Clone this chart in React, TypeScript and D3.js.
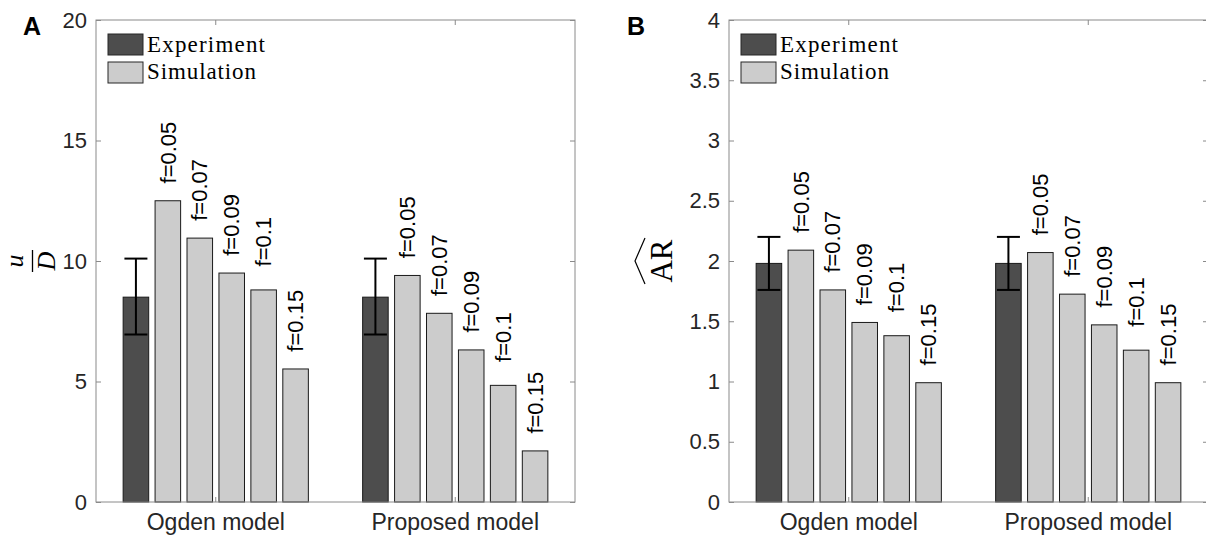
import * as d3 from 'd3';
import React, { useRef, useEffect } from 'react';

const categories = ['Ogden model', 'Proposed model'];
const seriesKeys = ['exp', 'f=0.05', 'f=0.07', 'f=0.09', 'f=0.1', 'f=0.15'];
const fLabels = ['f=0.05', 'f=0.07', 'f=0.09', 'f=0.1', 'f=0.15'];
const legendLabels = ['Experiment', 'Simulation'];

// panel A : u/D
const udExperiment = [8.5, 8.5];
const udErrLow = [6.95, 6.95];
const udErrHigh = [10.1, 10.1];
const udOgden = [12.5, 10.95, 9.5, 8.8, 5.52];
const udProposed = [9.4, 7.83, 6.31, 4.84, 2.12];
const udTicks = [0, 5, 10, 15, 20];

// panel B : AR
const arExperiment = [1.98, 1.98];
const arErrLow = [1.76, 1.76];
const arErrHigh = [2.2, 2.2];
const arOgden = [2.09, 1.76, 1.49, 1.38, 0.99];
const arProposed = [2.07, 1.725, 1.47, 1.26, 0.99];
const arTicks = [0, 0.5, 1, 1.5, 2, 2.5, 3, 3.5, 4];

const W = 479;
const H = 482;
const TOP = 20;
const SANS = "'Liberation Sans', Arial, Helvetica, sans-serif";
const SERIF = "'Liberation Serif', 'Times New Roman', serif";
const AXIS_COLOR = '#8a8a8a';
const TEXT_COLOR = '#262626';
const EXP_FILL = '#4d4d4d';
const SIM_FILL = '#cccccc';

const draw = (node, cfg) => {
  const root = d3.select(node);
  root.selectAll('*').remove();

  const g = root.append('g')
    .attr('transform', `translate(${cfg.left}, ${TOP})`);

  // scales
  const x0 = d3.scaleBand()
    .domain(categories)
    .range([0, W])
    .paddingInner(0.2)
    .paddingOuter(0.1);
  const x1 = d3.scaleBand()
    .domain(seriesKeys)
    .range([0, x0.bandwidth()])
    .paddingInner(0.2)
    .paddingOuter(0.1);
  const y = d3.scaleLinear()
    .domain([0, cfg.yMax])
    .range([H, 0]);

  // bars
  categories.forEach((c, ci) => {
    const gx = x0(c);
    const vals = [cfg.exp[ci], ...cfg.sim[ci]];
    g.append('g')
      .selectAll('rect')
      .data(vals)
      .enter().append('rect')
      .attr('x', (d, i) => gx + x1(seriesKeys[i]))
      .attr('y', d => y(d))
      .attr('width', x1.bandwidth())
      .attr('height', d => H - y(d))
      .attr('fill', (d, i) => i === 0 ? EXP_FILL : SIM_FILL)
      .attr('stroke', '#1a1a1a')
      .attr('stroke-width', 1);

    // error bar
    const cx = gx + x1('exp') + x1.bandwidth() / 2;
    const eb = g.append('g').attr('stroke', '#000').attr('stroke-width', 2);
    eb.append('line').attr('x1', cx).attr('x2', cx)
      .attr('y1', y(cfg.errLow[ci])).attr('y2', y(cfg.errHigh[ci]));
    [cfg.errLow[ci], cfg.errHigh[ci]].forEach(v => {
      eb.append('line').attr('x1', cx - 11.5).attr('x2', cx + 11.5)
        .attr('y1', y(v)).attr('y2', y(v));
    });

    // f labels
    g.append('g')
      .selectAll('text')
      .data(cfg.sim[ci])
      .enter().append('text')
      .attr('transform', (d, i) => {
        const bx = gx + x1(seriesKeys[i + 1]) + x1.bandwidth() / 2;
        return `translate(${bx}, ${y(d + cfg.labelOffset)}) rotate(-90)`;
      })
      .attr('text-anchor', 'middle')
      .attr('dy', '0.35em')
      .attr('font-family', SANS)
      .attr('font-size', 22)
      .attr('fill', '#000')
      .text((d, i) => fLabels[i]);
  });

  // axes
  const styleAxis = (size) => (sel) => {
    sel.select('.domain').remove();
    sel.selectAll('.tick line').attr('stroke', AXIS_COLOR);
    sel.selectAll('.tick text').attr('fill', TEXT_COLOR);
    sel.attr('font-family', SANS).attr('font-size', size);
  };

  g.append('g')
    .call(d3.axisLeft(y).tickValues(cfg.ticks).tickSize(-5).tickPadding(9).tickFormat(d => String(d)))
    .call(styleAxis(22));
  g.append('g')
    .attr('transform', `translate(${W}, 0)`)
    .call(d3.axisRight(y).tickValues(cfg.ticks).tickSize(-5).tickFormat(() => ''))
    .call(styleAxis(22));
  g.append('g')
    .call(d3.axisTop(x0).tickSize(-5).tickFormat(() => ''))
    .call(styleAxis(22));
  g.append('g')
    .attr('transform', `translate(0, ${H})`)
    .call(d3.axisBottom(x0).tickSize(-5).tickPadding(12))
    .call(styleAxis(23));

  // box
  g.append('rect')
    .attr('width', W)
    .attr('height', H)
    .attr('fill', 'none')
    .attr('stroke', AXIS_COLOR)
    .attr('stroke-width', 1);

  // legend
  const lg = g.append('g');
  legendLabels.forEach((lab, i) => {
    lg.append('rect')
      .attr('x', 12).attr('y', 14 + i * 28)
      .attr('width', 35).attr('height', 21)
      .attr('fill', i === 0 ? EXP_FILL : SIM_FILL)
      .attr('stroke', '#262626');
    lg.append('text')
      .attr('x', 51).attr('y', 31.5 + i * 27)
      .attr('font-family', SERIF)
      .attr('font-size', 23)
      .attr('fill', '#000')
      .attr('textLength', i === 0 ? 118 : 109)
      .attr('lengthAdjust', 'spacing')
      .text(lab);
  });

  // panel letter
  root.append('text')
    .attr('x', cfg.letterX).attr('y', 35)
    .attr('font-family', SANS)
    .attr('font-weight', 'bold')
    .attr('font-size', 25)
    .attr('fill', '#000')
    .text(cfg.letter);

  // y label
  if (cfg.yLabel === 'uD') {
    const yl = root.append('g').attr('transform', 'translate(32.5, 261) rotate(-90)');
    yl.append('text').attr('x', 0).attr('y', -10)
      .attr('text-anchor', 'middle').attr('font-family', SERIF)
      .attr('font-style', 'italic').attr('font-size', 26).attr('fill', '#000')
      .text('u');
    yl.append('line').attr('x1', -11).attr('x2', 11).attr('y1', 0).attr('y2', 0)
      .attr('stroke', '#000').attr('stroke-width', 1.3);
    yl.append('text').attr('x', 0).attr('y', 22.5)
      .attr('text-anchor', 'middle').attr('font-family', SERIF)
      .attr('font-style', 'italic').attr('font-size', 26).attr('fill', '#000')
      .text('D');
  } else {
    const yl = root.append('g').attr('transform', 'translate(672, 261) rotate(-90)');
    yl.append('text').attr('x', 0).attr('y', 0)
      .attr('text-anchor', 'middle').attr('font-family', SERIF)
      .attr('font-size', 31).attr('fill', '#000')
      .text('AR');
    yl.append('path')
      .attr('d', 'M-23,-27 L0,-37 L23,-27')
      .attr('fill', 'none')
      .attr('stroke', '#000')
      .attr('stroke-width', 1.2);
  }
};

const Panel = ({ cfg }) => {
  const ref = useRef(null);

  useEffect(() => {
    draw(ref.current, cfg);
  }, [cfg]);

  return <g ref={ref}></g>;
};

const panelA = {
  left: 96, letter: 'A', letterX: 23, yMax: 20, ticks: udTicks,
  exp: udExperiment, errLow: udErrLow, errHigh: udErrHigh,
  sim: [udOgden, udProposed], labelOffset: 2, yLabel: 'uD',
};
const panelB = {
  left: 729, letter: 'B', letterX: 627, yMax: 4, ticks: arTicks,
  exp: arExperiment, errLow: arErrLow, errHigh: arErrHigh,
  sim: [arOgden, arProposed], labelOffset: 0.4, yLabel: 'AR',
};

const App = () => {
  return (
    <svg
      width={1206}
      height={538}
      style={{ position: 'absolute', left: 0, top: 0, background: '#fff' }}
    >
      <Panel cfg={panelA} />
      <Panel cfg={panelB} />
    </svg>
  );
};

export default App;
